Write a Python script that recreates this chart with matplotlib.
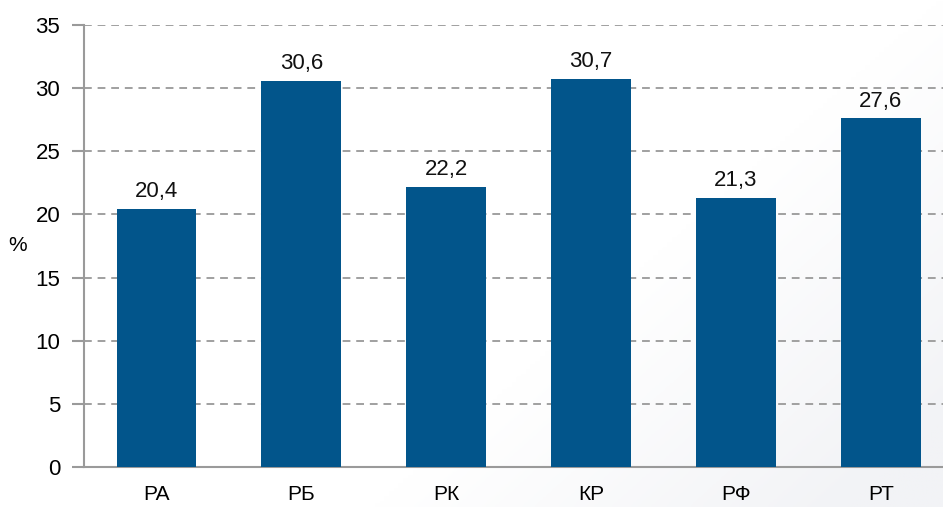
import numpy as np
import matplotlib
matplotlib.use("Agg")
import matplotlib.pyplot as plt

categories = ["РА", "РБ", "РК", "КР", "РФ", "РТ"]
values = [20.4, 30.6, 22.2, 30.7, 21.3, 27.6]
value_labels = ["20,4", "30,6", "22,2", "30,7", "21,3", "27,6"]
y_ticks = [0, 5, 10, 15, 20, 25, 30, 35]

plt.rcParams['font.family'] = ['Liberation Sans', 'DejaVu Sans']

fig = plt.figure(figsize=(9.43, 5.07), dpi=100)

# very faint shading in the lower right corner
bg = fig.add_axes([0, 0, 1, 1], zorder=-10)
gx, gy = np.meshgrid(np.linspace(0, 1, 200), np.linspace(0, 1, 200))
shade = np.clip((gx - 0.7) * 2.0 + (gy - 0.5) * 1.2, 0, 1)
bg.imshow(shade, cmap=matplotlib.colors.LinearSegmentedColormap.from_list("g", ["#ffffff", "#f2f3f6"]),
          extent=[0, 1, 0, 1], aspect="auto", origin="upper")
bg.axis("off")

ax = fig.add_axes([0.0891, 0.0789, 0.9109, 0.8718])
ax.patch.set_alpha(0)

x = np.arange(len(categories))
ax.bar(x, values, width=0.55, color="#02558b", zorder=3)

for xi, v, lab in zip(x, values, value_labels):
    ax.annotate(lab, (xi, v), xytext=(0, 5), textcoords="offset points",
                ha="center", va="bottom", fontsize=16, color="#111111")

ax.set_ylim(0, 35)
ax.set_xlim(-0.5, 5.43)
ax.set_yticks(y_ticks)
ax.set_xticks(x)
ax.set_xticklabels(categories)
ax.yaxis.grid(True, linestyle=(0, (4, 3)), color="#a0a0a0", linewidth=1.4, zorder=0)

for s in ["top", "right"]:
    ax.spines[s].set_visible(False)
for s in ["left", "bottom"]:
    ax.spines[s].set_color("#9a9a9a")
    ax.spines[s].set_linewidth(1.5)

ax.tick_params(axis="y", length=8.6, width=1.5, color="#9a9a9a", pad=8.6, labelsize=16)
ax.tick_params(axis="x", length=0, pad=13, labelsize=15)
ax.set_ylabel("%", rotation=0, fontsize=15, va="center", ha="left")
ax.yaxis.set_label_coords(-0.0885, 0.5)

fig.savefig("out.png", dpi=100)
